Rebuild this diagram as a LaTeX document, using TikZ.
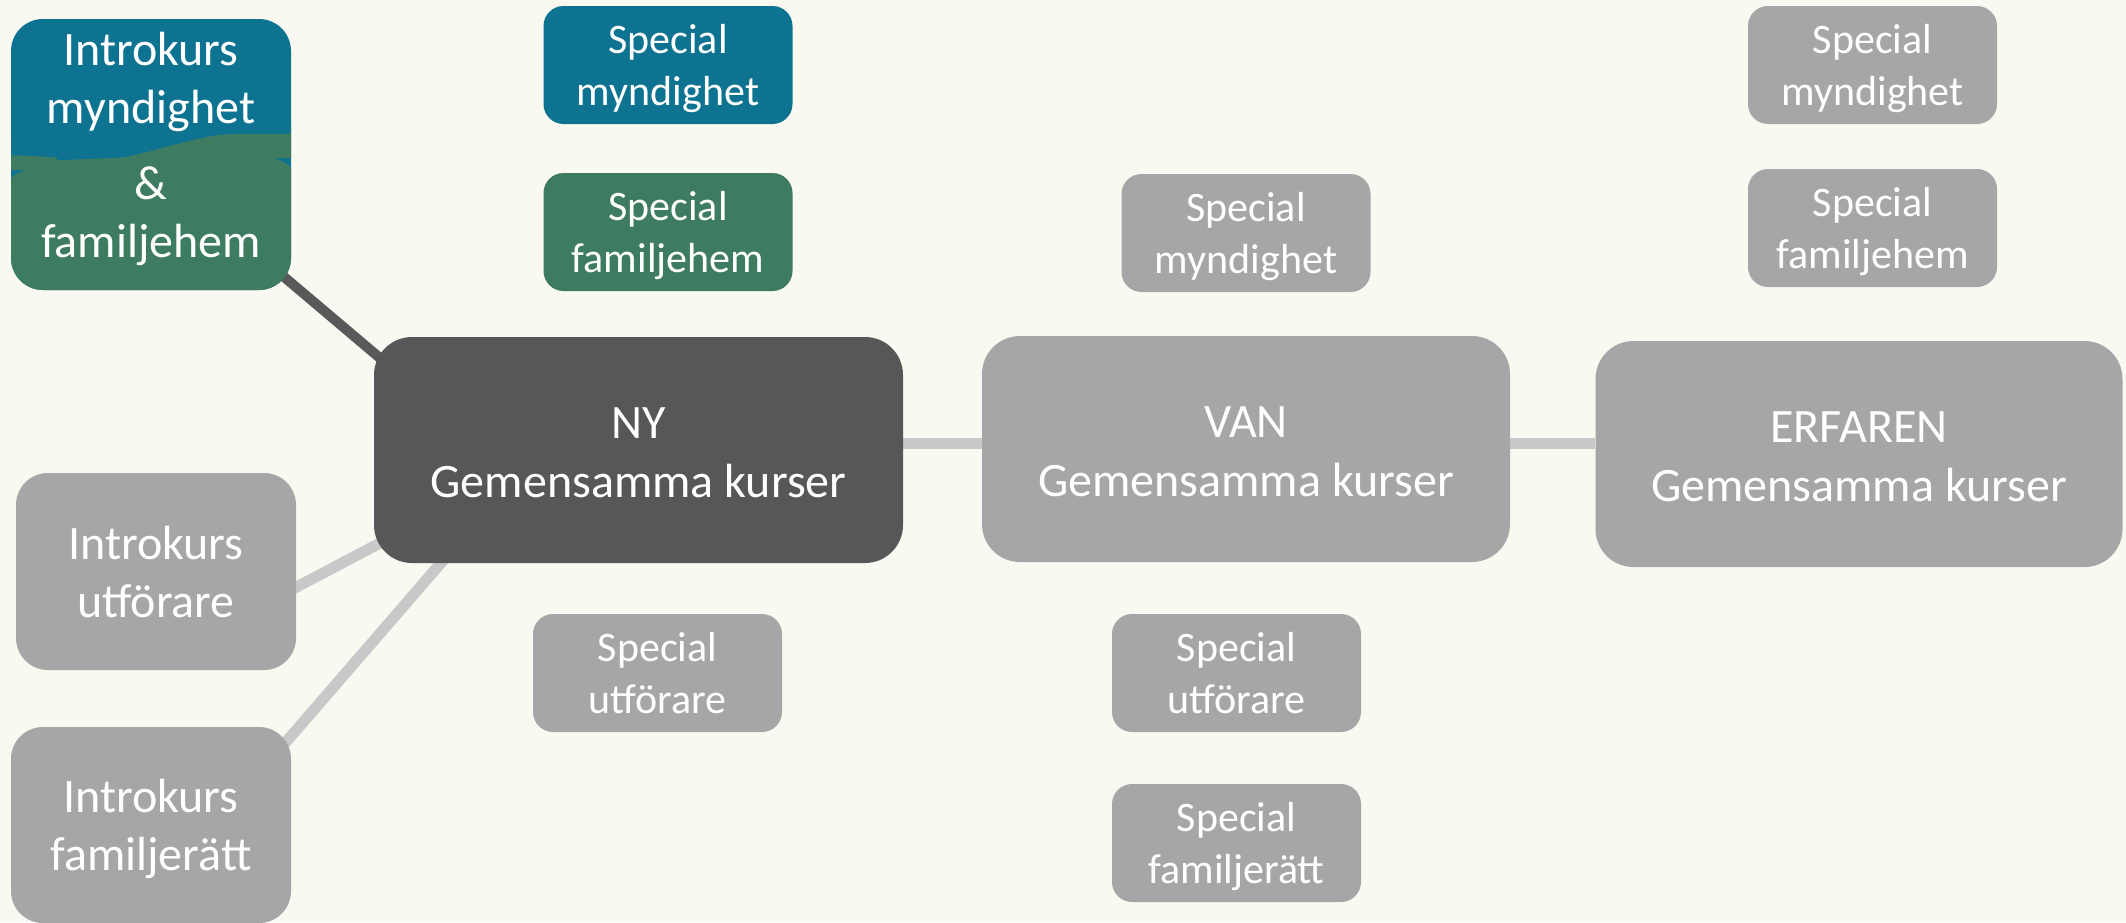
\documentclass[tikz,border=0pt]{standalone}
\usepackage{fontspec}
\setmainfont{Carlito}
\usetikzlibrary{calc}
\pgfdeclarelayer{back}
\pgfsetlayers{back,main}
\definecolor{bgc}{HTML}{F9F9F1}
\definecolor{cblue}{HTML}{0E7391}
\definecolor{cgreen}{HTML}{3E7C62}
\definecolor{cdark}{HTML}{575757}
\definecolor{cgray}{HTML}{A6A6A6}
\definecolor{cline}{HTML}{C8C8C8}
\definecolor{cdline}{HTML}{595959}
\newcommand\ttop[1]{\rule{0pt}{#1}}
\newcommand\tbot[1]{\rule[-#1]{0pt}{0pt}}
\tikzset{
  basebox/.style={inner sep=0pt, text=white, align=center},
  bigbox/.style={basebox, rounded corners=38pt, minimum width=528pt, minimum height=226pt,
     font=\fontsize{48}{59}\selectfont},
  introbox/.style={basebox, rounded corners=32pt, minimum width=280pt,
     font=\fontsize{48}{58}\selectfont},
  smallbox/.style={basebox, rounded corners=20pt, minimum width=249pt, minimum height=118pt,
     font=\fontsize{42}{52}\selectfont},
  lightline/.style={draw=cline, line width=11pt},
  darkline/.style={draw=cdline, line width=10pt},
}
\begin{document}
\begin{tikzpicture}[x=1pt,y=-1pt]
\begin{pgfonlayer}{back}
\fill[bgc] (0,0) rectangle (2126,922);
\end{pgfonlayer}
\useasboundingbox (0,0) rectangle (2126,922);

% intro box with two colours
\node[introbox, minimum height=271pt, fill=cblue,
  path picture={
    \coordinate (pc) at (path picture bounding box.center);
    \fill[cgreen] ($(pc)+(-151,15.5)$) -- ($(pc)+(-140,15.5)$)
      .. controls ($(pc)+(-140,5.5)$) and ($(pc)+(-136,0.5)$) .. ($(pc)+(-126,0.5)$)
      .. controls ($(pc)+(-101,2.5)$) and ($(pc)+(-86,5.5)$) .. ($(pc)+(-66,4.5)$)
      .. controls ($(pc)+(-11,2.5)$) and ($(pc)+(49,-20.5)$) .. ($(pc)+(114,-20.5)$)
      .. controls ($(pc)+(131,-20.5)$) and ($(pc)+(140,-12.5)$) .. ($(pc)+(140,3.5)$)
      -- ($(pc)+(149,3.5)$) -- ($(pc)+(149,145.5)$) -- ($(pc)+(-151,145.5)$) -- cycle;
  }] (imf) at (151,154.5) {\ttop{43pt}Introkurs\\myndighet\\[18pt]\&\\familjehem\tbot{30pt}};

\node[smallbox, fill=cblue] (smb) at (668,65) {\ttop{38pt}Special\\myndighet\tbot{10pt}};
\node[smallbox, fill=cgreen] (sfg) at (668,232) {\ttop{38pt}Special\\familjehem\tbot{10pt}};

\node[bigbox, fill=cdark, minimum width=529pt] (ny) at (638.5,450) {\ttop{40pt}NY\\Gemensamma kurser\tbot{5pt}};
\node[introbox, minimum height=197pt, fill=cgray] (iut) at (156,571.5) {\ttop{43pt}Introkurs\\utförare\tbot{10pt}};
\node[introbox, minimum height=196pt, fill=cgray] (ifr) at (151,825) {\ttop{43pt}Introkurs\\familjerätt\tbot{10pt}};
\node[smallbox, fill=cgray] (sul) at (657.5,673) {\ttop{38pt}Special\\utförare\tbot{10pt}};

\node[smallbox, fill=cgray] (smg) at (1246,233) {\ttop{38pt}Special\\myndighet\tbot{10pt}};
\node[bigbox, fill=cgray] (van) at (1246,449) {\ttop{40pt}VAN\\Gemensamma kurser\tbot{5pt}};
\node[smallbox, fill=cgray] (sum) at (1236.5,673) {\ttop{38pt}Special\\utförare\tbot{10pt}};
\node[smallbox, fill=cgray] (sfr) at (1236.5,843) {\ttop{38pt}Special\\familjerätt\tbot{10pt}};

\node[smallbox, fill=cgray] (smr) at (1872.5,65) {\ttop{38pt}Special\\myndighet\tbot{10pt}};
\node[smallbox, fill=cgray] (sfh) at (1872.5,228) {\ttop{38pt}Special\\familjehem\tbot{10pt}};
\node[bigbox, fill=cgray, minimum width=527pt] (erf) at (1859,454) {\ttop{40pt}ERFAREN\\Gemensamma kurser\tbot{5pt}};

\begin{pgfonlayer}{back}
\draw[darkline] ($(imf.center)+(119,110.5)$) -- ($(ny.center)+(-238.5,-75)$);
\draw[lightline] ($(iut.center)+(114,29.5)$) -- ($(ny.center)+(-218.5,72)$);
\draw[lightline] ($(ifr.center)+(109,-53)$) -- ($(ny.center)+(-178.5,91)$);
\draw[lightline] ([yshift=7pt]ny.east) -- ([yshift=6pt]van.west);
\draw[lightline] ([yshift=6pt]van.east) -- ([yshift=11pt]erf.west);
\end{pgfonlayer}
\end{tikzpicture}
\end{document}
